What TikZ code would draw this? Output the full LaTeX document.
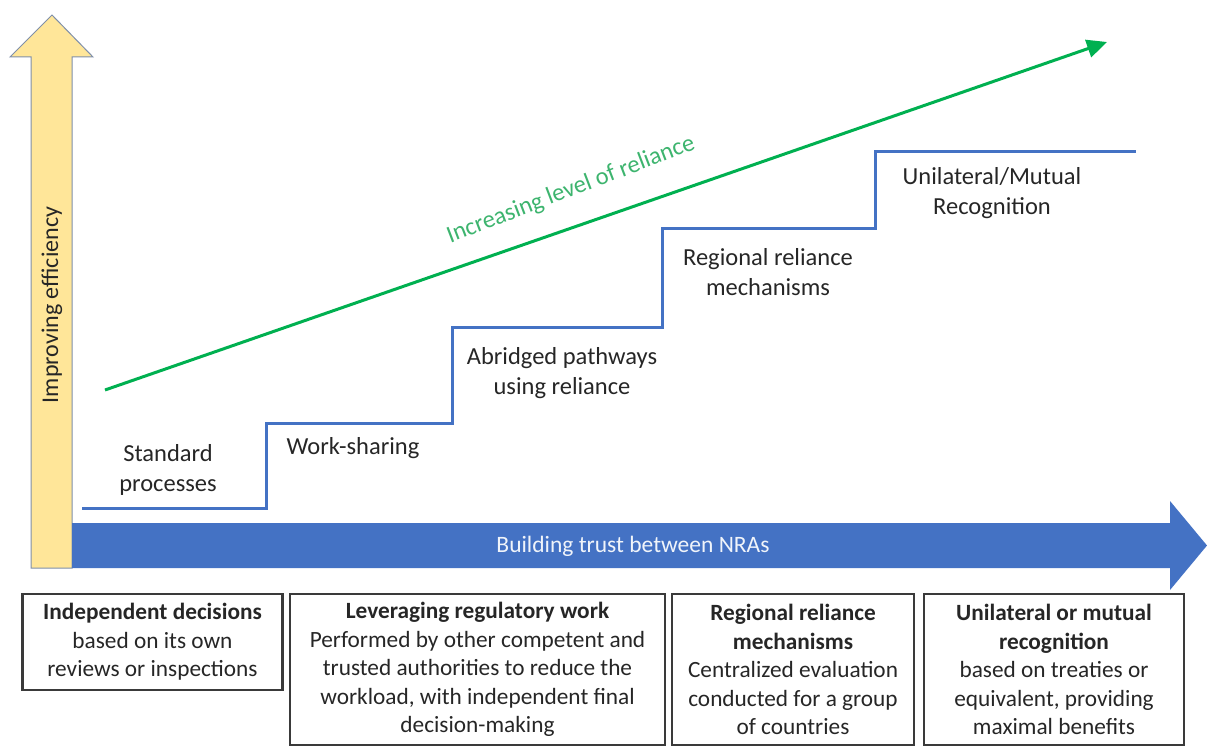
\documentclass[tikz,border=0pt]{standalone}
\usepackage{fontspec}
\setmainfont{Carlito}
\usetikzlibrary{arrows.meta}
\definecolor{yellowfill}{HTML}{FFE699}
\definecolor{yellowedge}{HTML}{7F8FA9}
\definecolor{bluefill}{HTML}{4472C4}
\definecolor{greenline}{HTML}{00B050}
\definecolor{greentext}{HTML}{3DB46E}
\definecolor{textgrey}{HTML}{262626}
\definecolor{boxedge}{HTML}{3A3A3A}
\tikzset{
  steplabel/.style={text=textgrey, align=center, font=\fontsize{24.5}{30}\selectfont, inner sep=0pt},
  infobox/.style={draw=boxedge, line width=2.4pt, text=textgrey, align=center,
    font=\fontsize{23.3}{28.5}\selectfont, inner sep=0pt},
  stairline/.style={draw=bluefill, line width=3pt},
}
\begin{document}
\begin{tikzpicture}[x=1pt,y=-1pt]
\useasboundingbox (0,0) rectangle (1207,746);
% yellow up arrow
\fill[yellowfill, draw=yellowedge, line width=1pt]
  (31,568) -- (31,57) -- (10,57) -- (52,15) -- (93,57) -- (72,57) -- (72,568) -- cycle;
\node[rotate=90, text=textgrey, font=\fontsize{24}{28}\selectfont, inner sep=0pt] (eff) at (52,305) {Improving efficiency};
% blue right arrow
\fill[bluefill]
  (72,523) -- (1170,523) -- (1170,501) -- (1207,545.5) -- (1170,590) -- (1170,568) -- (72,568) -- cycle;
\node[text=white!92!bluefill, font=\fontsize{23.5}{28}\selectfont, inner sep=0pt] (trust) at (633,546) {Building trust between NRAs};
% staircase
\draw[stairline] (82,508) -- (266,508) -- (266,423) -- (452,423) -- (452,327) -- (662,327)
  -- (662,228) -- (875,228) -- (875,152) -- (1136,152);
\node[steplabel] (s1) at (168,470) {Standard\\processes};
\node[steplabel] (s2) at (353,448) {Work-sharing};
\node[steplabel] (s3) at (562,373) {Abridged pathways\\using reliance};
\node[steplabel] (s4) at (768,272) {Regional reliance\\mechanisms};
\node[steplabel] (s5) at (992,193) {Unilateral/Mutual\\Recognition};
% green arrow
\coordinate (g1) at (105,390);
\coordinate (g2) at (1107,42);
\draw[greenline, line width=3pt, -{Triangle[length=20pt,width=18pt]}] (g1) -- (g2);
\node[rotate=21, text=greentext, font=\fontsize{24.5}{28}\selectfont, inner sep=0pt] (rel) at (571,190) {Increasing level of reliance};
% bottom boxes
\node[infobox, minimum width=260pt, minimum height=96pt] (b1) at (152.5,642)
  {\textbf{Independent decisions}\\based on its own\\reviews or inspections};
\node[infobox, minimum width=375pt, minimum height=151pt] (b2) at (477.5,669.5)
  {\textbf{Leveraging regulatory work}\\Performed by other competent and\\trusted authorities to reduce the\\workload, with independent final\\decision-making};
\node[infobox, minimum width=242pt, minimum height=151pt] (b3) at (793,669.5)
  {\textbf{Regional reliance}\\\textbf{mechanisms}\\Centralized evaluation\\conducted for a group\\of countries};
\node[infobox, minimum width=260pt, minimum height=151pt] (b4) at (1054,669.5)
  {\textbf{Unilateral or mutual}\\\textbf{recognition}\\based on treaties or\\equivalent, providing\\maximal benefits};
\end{tikzpicture}
\end{document}
